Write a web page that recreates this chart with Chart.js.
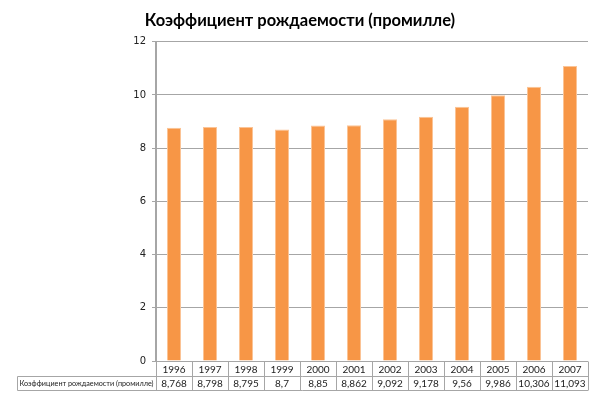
<!DOCTYPE html>
<html>
<head>
<meta charset="utf-8">
<script src="https://cdn.jsdelivr.net/npm/chart.js@4/dist/chart.umd.min.js"></script>
<style>
  html, body { margin: 0; padding: 0; background: #fff; }
  #wrap { width: 600px; height: 400px; }
</style>
</head>
<body>
<div id="wrap"><canvas id="birthChart"></canvas></div>
<script>
const years = ['1996', '1997', '1998', '1999', '2000', '2001', '2002', '2003', '2004', '2005', '2006', '2007'];
const birthRate = [8.768, 8.798, 8.795, 8.7, 8.85, 8.862, 9.092, 9.178, 9.56, 9.986, 10.306, 11.093];
const seriesName = 'Коэффициент рождаемости (промилле)';
const yTicks = [0, 2, 4, 6, 8, 10, 12];

const gridGray = '#a6a6a6';
const tableFont = '"Liberation Sans Narrow", Lato, sans-serif';

// data table under the plot, Excel style
const dataTable = {
    id: 'dataTable',
    afterDraw(chart) {
        const ctx = chart.ctx;
        const x = chart.scales.x;
        const area = chart.chartArea;
        const top = Math.round(area.bottom) + 0.5;
        const mid = top + 15;
        const bot = mid + 14;
        const labelLeft = 17.5;
        const step = (area.right - area.left) / years.length;

        ctx.save();
        ctx.strokeStyle = gridGray;
        ctx.lineWidth = 1;
        ctx.beginPath();
        ctx.moveTo(labelLeft, mid); ctx.lineTo(area.right, mid);
        ctx.moveTo(labelLeft, bot); ctx.lineTo(area.right, bot);
        ctx.moveTo(labelLeft, mid); ctx.lineTo(labelLeft, bot);
        for (let i = 0; i <= years.length; i++) {
            const lx = Math.round(area.left + i * step) + 0.5;
            ctx.moveTo(lx, top); ctx.lineTo(lx, bot);
        }
        ctx.stroke();

        ctx.fillStyle = '#222';
        ctx.textAlign = 'center';
        ctx.textBaseline = 'middle';
        ctx.font = '10px ' + tableFont;
        years.forEach((yr, i) => {
            const cx = x.getPixelForValue(i);
            ctx.fillText(yr, cx, (top + mid) / 2 + 0.5);
            ctx.fillText(String(birthRate[i]).replace('.', ','), cx, (mid + bot) / 2 + 0.5);
        });

        // series label cell, squeezed to fit
        let size = 10;
        ctx.font = size + 'px ' + tableFont;
        while (ctx.measureText(seriesName).width > area.left - labelLeft - 3 && size > 6) {
            size -= 0.25;
            ctx.font = size + 'px ' + tableFont;
        }
        ctx.textAlign = 'left';
        ctx.fillText(seriesName, labelLeft + 2, (mid + bot) / 2 + 0.5);
        ctx.restore();
    }
};

new Chart(document.getElementById('birthChart').getContext('2d'), {
    type: 'bar',
    data: {
        labels: years,
        datasets: [{
            label: seriesName,
            data: birthRate,
            backgroundColor: '#f79646',
            borderColor: '#fbc497',
            borderWidth: 1,
            barPercentage: 0.39,
            categoryPercentage: 1
        }]
    },
    options: {
        responsive: true,
        maintainAspectRatio: false,
        animation: false,
        layout: {
            padding: { left: 12, right: 12, top: 0, bottom: 0 }
        },
        plugins: {
            legend: { display: false },
            tooltip: { enabled: false },
            title: {
                display: true,
                text: seriesName,
                align: 'center',
                color: '#000',
                font: { family: 'Lato', size: 16.5, weight: 'bold' },
                padding: { top: 11, bottom: 11 }
            }
        },
        scales: {
            x: {
                grid: { display: false },
                border: { display: false },
                ticks: { display: false },
                afterFit(scale) { scale.height = 39; }
            },
            y: {
                min: 0,
                max: 12,
                afterBuildTicks(scale) { scale.ticks = yTicks.map(v => ({ value: v })); },
                afterFit(scale) { scale.width = 144; },
                ticks: {
                    color: '#222',
                    padding: 6,
                    font: { family: 'DejaVu Sans', size: 10 }
                },
                grid: {
                    color: gridGray,
                    tickLength: 4,
                    tickColor: gridGray
                },
                border: { color: gridGray, width: 2 }
            }
        }
    },
    plugins: [dataTable]
});
</script>
</body>
</html>
